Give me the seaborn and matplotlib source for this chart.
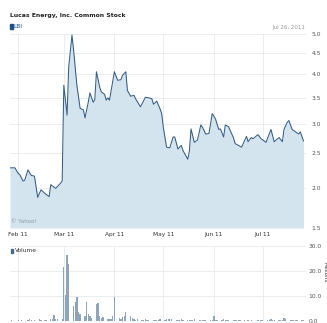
import matplotlib
matplotlib.use("Agg")
import matplotlib.pyplot as plt
import matplotlib.dates as mdates
import numpy as np
import pandas as pd
import seaborn as sns

# ---------------- data ----------------
title = "Lucas Energy, Inc. Common Stock"
ticker = "LBI"
as_of = "Jul 26, 2011"

price_dates = [
    "2011-01-27", "2011-01-30", "2011-02-01", "2011-02-02", "2011-02-04", "2011-02-05",
    "2011-02-07", "2011-02-09", "2011-02-11", "2011-02-13", "2011-02-15", "2011-02-17",
    "2011-02-20", "2011-02-21", "2011-02-24", "2011-02-27", "2011-02-28", "2011-03-01",
    "2011-03-03", "2011-03-04", "2011-03-06", "2011-03-07", "2011-03-09", "2011-03-11",
    "2011-03-13", "2011-03-14", "2011-03-16", "2011-03-17", "2011-03-19", "2011-03-20",
    "2011-03-21", "2011-03-23", "2011-03-24", "2011-03-26", "2011-03-27", "2011-03-28",
    "2011-03-29", "2011-04-01", "2011-04-03", "2011-04-05", "2011-04-06", "2011-04-08",
    "2011-04-09", "2011-04-11", "2011-04-13", "2011-04-14", "2011-04-17", "2011-04-18",
    "2011-04-20", "2011-04-22", "2011-04-24", "2011-04-25", "2011-04-27", "2011-04-29",
    "2011-04-30", "2011-05-01", "2011-05-03", "2011-05-05", "2011-05-07", "2011-05-08",
    "2011-05-10", "2011-05-12", "2011-05-13", "2011-05-16", "2011-05-17", "2011-05-18",
    "2011-05-20", "2011-05-22", "2011-05-24", "2011-05-25", "2011-05-27", "2011-05-29",
    "2011-05-31", "2011-06-02", "2011-06-04", "2011-06-05", "2011-06-07", "2011-06-08",
    "2011-06-10", "2011-06-12", "2011-06-13", "2011-06-14", "2011-06-16", "2011-06-18",
    "2011-06-21", "2011-06-22", "2011-06-24", "2011-06-25", "2011-06-28", "2011-06-30",
    "2011-07-03", "2011-07-06", "2011-07-08", "2011-07-11", "2011-07-13", "2011-07-14",
    "2011-07-16", "2011-07-17", "2011-07-19", "2011-07-21", "2011-07-23", "2011-07-24",
    "2011-07-26",
]
price_values = [
    2.28, 2.28, 2.20, 2.18, 2.09, 2.10,
    2.25, 2.17, 2.16, 1.87, 1.97, 1.93,
    1.88, 2.04, 1.99, 2.06, 2.09, 3.76,
    3.16, 4.17, 4.97, 4.58, 3.76, 3.29,
    3.26, 3.11, 3.41, 3.60, 3.41, 3.46,
    4.06, 3.72, 3.62, 3.57, 3.45, 3.50,
    3.45, 4.06, 3.87, 3.88, 3.98, 4.06,
    3.65, 3.53, 3.55, 3.48, 3.32, 3.38,
    3.51, 3.50, 3.48, 3.37, 3.43, 3.28,
    3.19, 2.94, 2.60, 2.59, 2.77, 2.77,
    2.57, 2.63, 2.55, 2.41, 2.54, 2.91,
    2.68, 2.72, 2.98, 2.94, 2.82, 2.83,
    3.19, 3.09, 2.90, 2.91, 2.77, 2.98,
    2.95, 2.82, 2.76, 2.66, 2.63, 2.60,
    2.78, 2.69, 2.76, 2.74, 2.81, 2.74,
    2.68, 2.90, 2.69, 2.76, 2.69, 2.90,
    3.03, 3.06, 2.90, 2.86, 2.82, 2.86,
    2.70,
]

# daily volume (millions), one value per weekday from Jan 27 to Jul 26
vol_jan = [0.2, 0.3, 0.2]
vol_feb = [0.3, 0.2, 0.3, 0.2, 0.3, 0.7, 0.3, 0.2, 0.3, 1.0,
           0.3, 0.2, 0.3, 0.4, 0.7, 1.0, 2.5, 0.8, 0.8, 1.0]
vol_mar = [21.5, 10.5, 26.4, 22.8, 5.9, 7.8, 9.6, 3.6, 2.7, 2.1, 7.8, 3.0,
           2.1, 1.1, 6.9, 7.2, 1.9, 1.1, 1.5, 0.9, 0.9, 0.8, 1.9]
vol_apr = [9.6, 1.3, 1.0, 1.5, 1.9, 3.8, 1.9, 1.1, 0.7, 0.6, 0.8,
           0.5, 0.6, 0.7, 0.5, 0.6, 0.4, 0.5, 0.6, 0.5, 0.7]
vol_may = [0.6, 0.9, 1.0, 0.8, 0.7, 0.6, 0.5, 0.6, 0.7, 0.5, 0.4,
           0.6, 0.5, 0.6, 0.7, 0.5, 0.4, 0.5, 0.6, 0.5, 0.4, 0.6]
vol_jun = [2.0, 0.6, 0.4, 0.5, 0.7, 0.5, 0.6, 0.4, 0.5, 0.6, 0.5,
           0.4, 0.3, 0.3, 0.2, 0.3, 0.2, 0.3, 0.2, 0.3, 0.2, 0.3]
vol_jul = [0.3, 0.3, 0.4, 0.8, 0.4, 0.3, 0.3, 0.4, 0.3, 1.3, 1.0,
           0.5, 0.6, 0.4, 0.5, 0.6, 0.4, 0.5]

price_ticks = [1.5, 2.0, 2.5, 3.0, 3.5, 4.0, 4.5, 5.0]
volume_ticks = [0, 10, 20, 30]

# ---------------- build frames ----------------
price_df = pd.DataFrame({"date": pd.to_datetime(price_dates), "price": price_values})
volume = vol_jan + vol_feb + vol_mar + vol_apr + vol_may + vol_jun + vol_jul
vol_dates = pd.bdate_range("2011-01-27", "2011-07-26")
vol_df = pd.DataFrame({"date": vol_dates[:len(volume)], "volume": volume})

# ---------------- style ----------------
sns.set_theme(style="white")
FONT = ["Liberation Sans Narrow", "DejaVu Sans Condensed", "DejaVu Sans"]
plt.rcParams["font.family"] = FONT

LINE = "#365d84"
FILL = "#d4e4ef"
GRID = "#e6eaee"
TXT = "#333333"
GREY = "#9a9a9a"
BAR = "#8ea4b8"

fig = plt.figure(figsize=(3.27, 3.23), dpi=100)
W, H = 327, 323

def box(x0, y0, x1, y1):
    return [x0 / W, 1 - y1 / H, (x1 - x0) / W, (y1 - y0) / H]

ax = fig.add_axes(box(10, 34, 306, 228))
axv = fig.add_axes(box(10, 246, 306, 321))

# price panel: compressed-log y scale
ax.set_yscale("function", functions=(lambda p: np.log(p + 1.0), lambda v: np.exp(v) - 1.0))
ax.fill_between(price_df["date"], price_df["price"], 1.5, color=FILL, lw=0, zorder=1)
sns.lineplot(data=price_df, x="date", y="price", ax=ax, color=LINE, lw=0.75, zorder=3)
xmin, xmax = pd.Timestamp("2011-01-27"), pd.Timestamp("2011-07-27 12:00")
ax.set_xlim(xmin, xmax)
ax.set_ylim(1.5, 5.0)
ax.set_yticks(price_ticks)
ax.set_yticklabels([f"{t:.1f}" for t in price_ticks])
ax.yaxis.tick_right()
ax.grid(True, color=GRID, lw=0.6, zorder=0)
ax.set_axisbelow(True)
ax.set_xlabel("")
ax.set_ylabel("")
for s in ax.spines.values():
    s.set_visible(False)
ax.xaxis.set_major_locator(mdates.MonthLocator())
ax.xaxis.set_major_formatter(mdates.DateFormatter("%b %y"))
ax.xaxis.set_ticks_position("bottom")
ax.tick_params(axis="x", bottom=True, top=False, labelbottom=True, labeltop=False,
               length=0, labelsize=4.2, labelcolor=TXT, pad=3)
ax.tick_params(axis="y", length=0, labelsize=4.3, labelcolor="#555555", pad=4)

# volume panel
axv.bar(vol_df["date"], vol_df["volume"], width=0.8, color=BAR, lw=0, zorder=2)
axv.set_xlim(xmin, xmax)
axv.xaxis.set_major_locator(mdates.MonthLocator())
axv.set_ylim(0, 30)
axv.set_yticks(volume_ticks)
axv.set_yticklabels([f"{t:.1f}" for t in volume_ticks])
axv.yaxis.tick_right()
axv.grid(True, color=GRID, lw=0.6, zorder=0)
axv.set_axisbelow(True)
for s in axv.spines.values():
    s.set_visible(False)
axv.tick_params(axis="x", labelbottom=False, length=0)
axv.tick_params(axis="y", length=0, labelsize=4.3, labelcolor="#555555", pad=2)

# texts
fig.text(10 / W, 1 - 16 / H, title, fontsize=4.4, fontweight="bold", color="#222222",
         va="center", ha="left", family=FONT)
fig.patches.append(plt.Rectangle((10 / W, 1 - 29 / H), 2.5 / W, 4.5 / H, color="#1f4f82",
                                 transform=fig.transFigure, figure=fig))
fig.text(13.5 / W, 1 - 27 / H, ticker, fontsize=4.2, color="#1f4f82", va="center",
         ha="left", family=FONT)
fig.text(305 / W, 1 - 28 / H, as_of, fontsize=4.0, color=GREY, va="center",
         ha="right", family=FONT)
ax.text(0.005, 0.035, "\u00a9 Yahoo!", transform=ax.transAxes, fontsize=4.0,
        color="#8a9aa8", va="center", ha="left", family=FONT)
fig.patches.append(plt.Rectangle((11 / W, 1 - 253 / H), 2 / W, 4 / H, color="#4a6a8a",
                                 transform=fig.transFigure, figure=fig))
fig.text(14.5 / W, 1 - 251 / H, "Volume", fontsize=4.2, color=TXT, va="center",
         ha="left", family=FONT)
fig.text(324.5 / W, 1 - 272 / H, "Millions", fontsize=4.0, color=TXT, va="center",
         ha="center", rotation=270, family=FONT)

fig.savefig("out.png", dpi=100)
